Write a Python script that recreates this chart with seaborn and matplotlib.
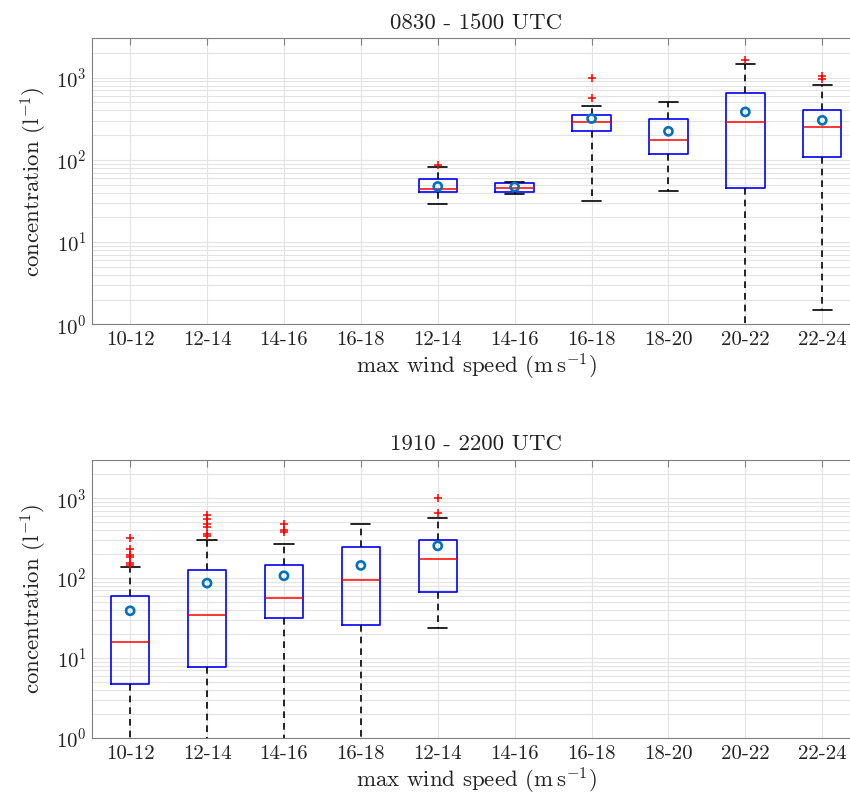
import numpy as np
import matplotlib
matplotlib.use("Agg")
import matplotlib.pyplot as plt
import seaborn as sns
import pandas as pd
from matplotlib.ticker import LogLocator, NullFormatter

# ---------------- data ----------------
categories_top = ['10-12', '12-14', '14-16', '16-18', '12-14', '14-16', '16-18', '18-20', '20-22', '22-24']
categories_bottom = ['10-12', '12-14', '14-16', '16-18', '12-14', '14-16', '16-18', '18-20', '20-22', '22-24']

title_top = '0830 - 1500 UTC'
title_bottom = '1910 - 2200 UTC'

# top panel (0830-1500 UTC): boxes present at category index 4..9
top_idx = [4, 5, 6, 7, 8, 9]
top_whislo = [29.0, 38.6, 31.5, 41.7, 0.3, 1.48]
top_q1 = [40.5, 40.5, 224, 116, 45.7, 109]
top_med = [43.6, 45.7, 285, 174, 291, 251]
top_q3 = [58.3, 52.2, 354, 317, 651, 400]
top_whishi = [80.8, 54.1, 447, 506, 1452, 822]
top_mean = [47.4, 46.7, 317, 222, 382, 302]
top_fliers = [[86], [], [560, 981], [], [1620], [965, 1030]]

# bottom panel (1910-2200 UTC): boxes present at category index 0..4
bot_idx = [0, 1, 2, 3, 4]
bot_whislo = [0.3, 0.3, 0.3, 0.3, 23.9]
bot_q1 = [4.77, 7.64, 31.9, 25.9, 66.8]
bot_med = [15.8, 34.8, 56.7, 95.3, 173]
bot_q3 = [59.6, 125, 147, 242, 298]
bot_whishi = [137, 296, 266, 473, 557]
bot_mean = [39.0, 86.6, 107, 144, 253]
bot_fliers = [[144, 153, 182, 192, 230, 319], [338, 358, 434, 477, 546, 608],
              [373, 398, 469], [], [649, 1009]]

# ---------------- style ----------------
sns.set_theme(style='white')
plt.rcParams['font.family'] = ['cmr10', 'DejaVu Serif']
plt.rcParams['mathtext.fontset'] = 'cm'
plt.rcParams['axes.unicode_minus'] = False
plt.rcParams['axes.formatter.use_mathtext'] = True

BOX_BLUE = '#0000ff'
MED_RED = '#ff0000'
MEAN_BLUE = '#0072BD'
SPINE = '#808080'
GRID = '#e3e3e3'
FS_TICK = 15
FS_LABEL = 16.5
FS_TITLE = 16.5

fig = plt.figure(figsize=(8.5, 8.01), dpi=100)
W, H = 850.0, 801.0
ax_left = 91.7 / W
ax_width = (860.7 - 91.7) / W
ax_top = fig.add_axes([ax_left, 1 - 324.3 / H, ax_width, (324.3 - 38.3) / H])
ax_bot = fig.add_axes([ax_left, 1 - 738.0 / H, ax_width, (738.0 - 460.0) / H])


def draw_panel(ax, cats, idx, wlo, q1, med, q3, whi, mean, fliers, title):
    stats = []
    for i in range(len(idx)):
        stats.append(dict(whislo=wlo[i], q1=q1[i], med=med[i], q3=q3[i],
                          whishi=whi[i], fliers=fliers[i], label=cats[idx[i]]))
    ax.bxp(stats, positions=idx, widths=0.5, showfliers=True, manage_ticks=False,
           boxprops=dict(color=BOX_BLUE, linewidth=1.2),
           medianprops=dict(color=MED_RED, linewidth=1.1),
           whiskerprops=dict(color='black', linewidth=1.2, linestyle=(0, (4, 3))),
           capprops=dict(color='black', linewidth=1.2),
           capwidths=0.25,
           flierprops=dict(marker='+', markeredgecolor=MED_RED, markersize=6,
                           markeredgewidth=1.1, linestyle='none'),
           zorder=3)
    dfm = pd.DataFrame({'x': idx, 'mean': mean})
    sns.scatterplot(data=dfm, x='x', y='mean', ax=ax, marker='o', s=34,
                    facecolor='none', edgecolor=MEAN_BLUE, linewidth=1.9, zorder=5,
                    legend=False)
    ax.set_yscale('log')
    ax.set_ylim(1, 3000)
    ax.set_xlim(-0.5, len(cats) - 0.5)
    ax.set_xticks(range(len(cats)))
    ax.set_xticklabels(cats, fontsize=FS_TICK)
    ax.yaxis.set_major_locator(LogLocator(base=10, numticks=10))
    ax.yaxis.set_minor_locator(LogLocator(base=10, subs=np.arange(2, 10), numticks=20))
    ax.yaxis.set_minor_formatter(NullFormatter())
    ax.tick_params(axis='both', which='both', direction='in', top=True, right=True,
                   colors=SPINE, labelcolor='#222222')
    ax.tick_params(axis='both', which='major', length=5, width=0.8, labelsize=FS_TICK)
    ax.tick_params(axis='y', which='minor', length=3, width=0.6)
    ax.tick_params(axis='x', which='major', pad=5)
    ax.grid(True, which='major', axis='both', color=GRID, linewidth=0.8, zorder=0)
    ax.grid(True, which='minor', axis='y', color=GRID, linewidth=0.8, zorder=0)
    ax.set_axisbelow(True)
    for sp in ax.spines.values():
        sp.set_color(SPINE)
        sp.set_linewidth(0.8)
    ax.set_xlabel(r'max wind speed (m$\,$s$^{-1}$)', fontsize=FS_LABEL, color='#222222', labelpad=2)
    ax.set_ylabel(r'concentration (l$^{-1}$)', fontsize=FS_LABEL, color='#222222', labelpad=5)
    ax.set_title(title, fontsize=FS_TITLE, color='#222222', pad=7)


draw_panel(ax_top, categories_top, top_idx, top_whislo, top_q1, top_med, top_q3,
           top_whishi, top_mean, top_fliers, title_top)
draw_panel(ax_bot, categories_bottom, bot_idx, bot_whislo, bot_q1, bot_med, bot_q3,
           bot_whishi, bot_mean, bot_fliers, title_bottom)

fig.savefig('out.png', dpi=100, facecolor='white')
